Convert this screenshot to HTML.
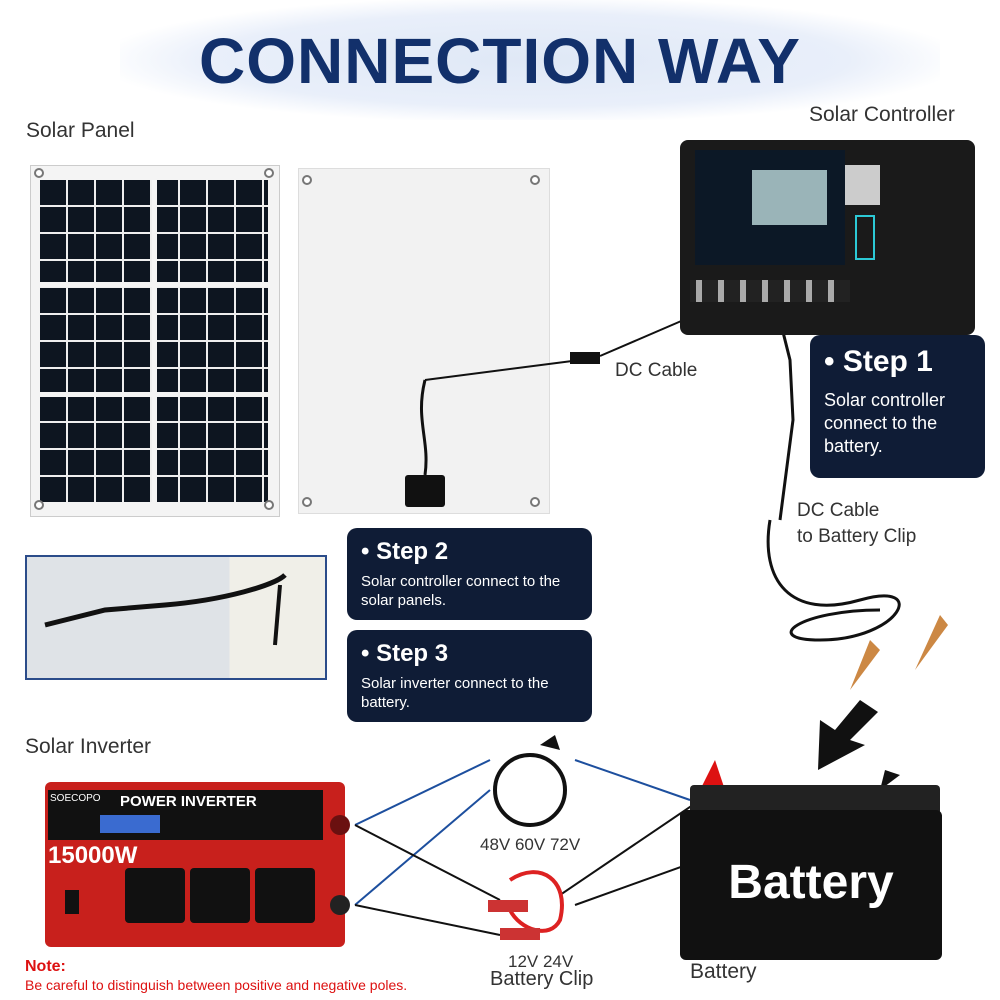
<!DOCTYPE html>
<html><head><meta charset="utf-8"><style>
*{margin:0;padding:0;box-sizing:border-box}
body{width:1000px;height:1000px;overflow:hidden;background:#fff;font-family:"Liberation Sans",sans-serif;position:relative}
.a{position:absolute}
.lbl{position:absolute;color:#333;font-size:21px}
.step{position:absolute;background:#0f1c36;border-radius:10px;color:#fff;padding:10px 14px}
.step b{font-size:24px;display:block;margin-bottom:6px}
.step p{font-size:15px;line-height:19px}
.g{position:absolute;width:10px;height:10px;border-radius:50%;border:2px solid #777;background:#fff}
</style></head><body>
<div class="a" style="left:120px;top:0;width:820px;height:120px;background:radial-gradient(ellipse at center,#dfe8f6 0%,#e9effa 55%,#fff 75%)"></div>
<div class="a" style="left:0;top:24px;width:1000px;text-align:center;font-size:64px;font-weight:900;color:#12306b;letter-spacing:1px">CONNECTION WAY</div>
<div class="lbl" style="left:26px;top:119px">Solar Panel</div>
<div class="lbl" style="left:809px;top:103px">Solar Controller</div>

<!-- solar panel front -->
<div class="a" style="left:30px;top:165px;width:250px;height:352px;background:#f4f4f4;border:1px solid #ccc"></div>
<div class="a" style="left:40px;top:180px;width:228px;height:322px;background:
repeating-linear-gradient(90deg,transparent 0 26px,#eee 26px 28px),
repeating-linear-gradient(0deg,transparent 0 25px,#eee 25px 27px),#0d1520"></div>
<div class="a" style="left:152px;top:180px;width:5px;height:322px;background:#f4f4f4"></div>
<div class="a" style="left:40px;top:282px;width:228px;height:5px;background:#f4f4f4"></div>
<div class="a" style="left:40px;top:392px;width:228px;height:5px;background:#f4f4f4"></div>
<div class="g" style="left:34px;top:168px"></div><div class="g" style="left:264px;top:168px"></div>
<div class="g" style="left:34px;top:500px"></div><div class="g" style="left:264px;top:500px"></div>

<!-- panel back -->
<div class="a" style="left:298px;top:168px;width:252px;height:346px;background:#f2f2f2;border:1px solid #ddd"></div>
<div class="g" style="left:302px;top:175px"></div><div class="g" style="left:530px;top:175px"></div>
<div class="g" style="left:302px;top:497px"></div><div class="g" style="left:530px;top:497px"></div>
<div class="a" style="left:405px;top:475px;width:40px;height:32px;background:#111;border-radius:3px"></div>
<svg class="a" style="left:0;top:0" width="1000" height="1000">
<path d="M425 380 C415 420,430 440,425 475" stroke="#111" stroke-width="3" fill="none"/>
<line x1="425" y1="380" x2="580" y2="360" stroke="#111" stroke-width="2"/>
<rect x="570" y="352" width="30" height="12" fill="#111"/>
<line x1="600" y1="356" x2="730" y2="300" stroke="#111" stroke-width="2"/>
<path d="M775 300 L790 360 L793 420 L780 520" stroke="#111" stroke-width="3" fill="none"/>
<path d="M770 520 C760 580,790 620,860 600 C930 580,900 640,820 640 C760 640,800 610,880 610" stroke="#111" stroke-width="3" fill="none"/>
<path d="M850 690 L870 640 L880 650 Z" fill="#c84"/>
<path d="M915 670 L940 615 L948 625 Z" fill="#c84"/>
<path d="M860 700 L835 730 L820 720 L818 770 L865 745 L850 740 L878 712 Z" fill="#111"/>
<line x1="355" y1="825" x2="490" y2="760" stroke="#1d4f9e" stroke-width="2"/>
<line x1="355" y1="905" x2="490" y2="790" stroke="#1d4f9e" stroke-width="2"/>
<line x1="575" y1="760" x2="690" y2="800" stroke="#1d4f9e" stroke-width="2"/>
<line x1="355" y1="825" x2="500" y2="900" stroke="#111" stroke-width="2"/>
<line x1="355" y1="905" x2="500" y2="935" stroke="#111" stroke-width="2"/>
<line x1="560" y1="895" x2="715" y2="790" stroke="#111" stroke-width="2"/>
<line x1="575" y1="905" x2="895" y2="790" stroke="#111" stroke-width="2"/>
<circle cx="530" cy="790" r="35" stroke="#111" stroke-width="4" fill="none"/>
<path d="M540 745 L555 735 L560 750 Z" fill="#111"/>
<path d="M510 880 C540 860,570 880,560 920 C550 940,520 930,510 910" stroke="#d22" stroke-width="4" fill="none"/>
<rect x="488" y="900" width="40" height="12" fill="#c33"/><rect x="500" y="928" width="40" height="12" fill="#c33"/>
<path d="M700 790 L715 760 L725 790 Z" fill="#d11"/>
<path d="M880 790 L885 770 L900 775 Z" fill="#111"/>
</svg>

<!-- controller -->
<div class="a" style="left:680px;top:140px;width:295px;height:195px;background:#1a1a1a;border-radius:8px"></div>
<div class="a" style="left:695px;top:150px;width:150px;height:115px;background:#0c1826"></div>
<div class="a" style="left:752px;top:170px;width:75px;height:55px;background:#9ab4b8"></div>
<div class="a" style="left:845px;top:165px;width:35px;height:40px;background:#ccc"></div>
<div class="a" style="left:855px;top:215px;width:20px;height:45px;border:2px solid #2cc9d6"></div>
<div class="a" style="left:690px;top:280px;width:160px;height:22px;background:repeating-linear-gradient(90deg,#222 0 6px,#aaa 6px 12px,#222 12px 22px)"></div>

<div class="lbl" style="left:615px;top:360px;font-size:19px">DC Cable</div>
<div class="lbl" style="left:797px;top:498px;font-size:19px;line-height:26px">DC Cable<br>to Battery Clip</div>

<div class="step" style="left:810px;top:335px;width:175px;height:143px"><b style="font-size:30px;margin-bottom:10px">• Step 1</b><p style="font-size:18px;line-height:23px">Solar controller connect to the battery.</p></div>
<div class="step" style="left:347px;top:528px;width:245px;height:92px"><b>• Step 2</b><p>Solar controller connect to the solar panels.</p></div>
<div class="step" style="left:347px;top:630px;width:245px;height:92px"><b>• Step 3</b><p>Solar inverter connect to the battery.</p></div>

<!-- photo -->
<div class="a" style="left:25px;top:555px;width:302px;height:125px;border:2px solid #2b4c8a;background:linear-gradient(90deg,#dfe3e7 0 68%,#f0efe8 68%)"></div>
<svg class="a" style="left:25px;top:555px" width="302" height="125"><path d="M20 70 L80 55 L140 50 C200 45,250 30,260 20" stroke="#111" stroke-width="5" fill="none"/><path d="M255 30 L250 90" stroke="#111" stroke-width="4"/></svg>

<div class="lbl" style="left:25px;top:735px">Solar Inverter</div>
<div class="a" style="left:45px;top:782px;width:300px;height:165px;background:#c8201c;border-radius:6px"></div>
<div class="a" style="left:48px;top:790px;width:275px;height:50px;background:#111"></div>
<div class="a" style="left:100px;top:815px;width:60px;height:18px;background:#3a6bd0"></div>
<div class="a" style="left:120px;top:793px;color:#fff;font-weight:bold;font-size:15px">POWER INVERTER</div>
<div class="a" style="left:50px;top:793px;color:#fff;font-size:10px">SOECOPO</div>
<div class="a" style="left:48px;top:842px;color:#fff;font-weight:900;font-size:24px">15000W</div>
<div class="a" style="left:125px;top:868px;width:60px;height:55px;background:#111;border-radius:4px"></div>
<div class="a" style="left:190px;top:868px;width:60px;height:55px;background:#111;border-radius:4px"></div>
<div class="a" style="left:255px;top:868px;width:60px;height:55px;background:#111;border-radius:4px"></div>
<div class="a" style="left:65px;top:890px;width:14px;height:24px;background:#111"></div>
<div class="a" style="left:330px;top:815px;width:20px;height:20px;border-radius:50%;background:#6a1010"></div>
<div class="a" style="left:330px;top:895px;width:20px;height:20px;border-radius:50%;background:#222"></div>

<div class="lbl" style="left:480px;top:835px;font-size:17px">48V 60V 72V</div>
<div class="lbl" style="left:508px;top:952px;font-size:17px">12V 24V</div>
<div class="lbl" style="left:490px;top:968px;font-size:20px">Battery Clip</div>

<!-- battery -->
<div class="a" style="left:690px;top:785px;width:250px;height:30px;background:#222;border-radius:4px"></div>
<div class="a" style="left:680px;top:810px;width:262px;height:150px;background:#111;border-radius:6px"></div>
<div class="a" style="left:680px;top:855px;width:262px;text-align:center;color:#fff;font-weight:bold;font-size:48px">Battery</div>
<div class="lbl" style="left:690px;top:960px">Battery</div>

<div class="a" style="left:25px;top:958px;color:#d11;font-weight:bold;font-size:16px">Note:</div>
<div class="a" style="left:25px;top:977px;color:#d11;font-size:14px">Be careful to distinguish between positive and negative poles.</div>
</body></html>
